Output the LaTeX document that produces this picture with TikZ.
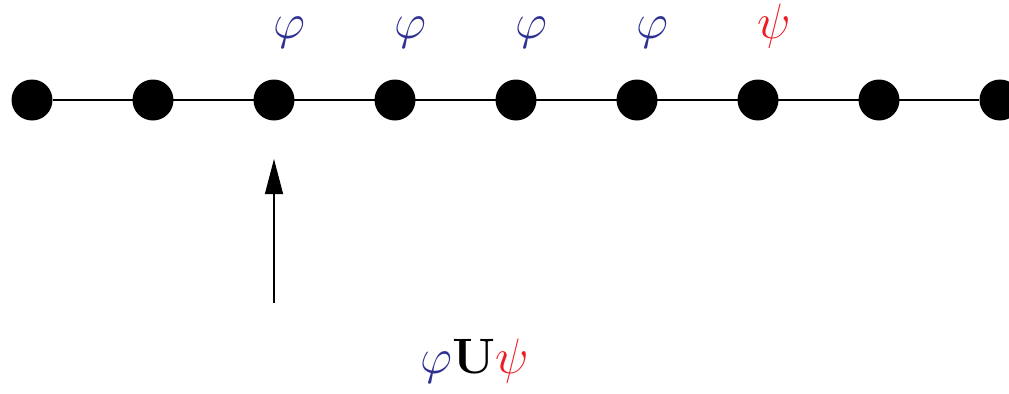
\documentclass[tikz,border=0pt]{standalone}
\usepackage{amsmath, amssymb}
\usepackage{xcolor}
\usepackage{tikz}
\usetikzlibrary{positioning, arrows.meta}

\definecolor{phiblue}{RGB}{46,49,146}
\definecolor{psired}{RGB}{237,28,36}

\begin{document}
\begin{tikzpicture}[node distance=60.5pt,on grid,line width=0.6pt,
    site/.style={circle,fill=black,inner sep=0pt,minimum size=20.5pt},
    prop/.style={inner sep=0pt,text height=17.5pt,text depth=5pt,
                 font=\fontsize{25}{30}\selectfont}]
       \useasboundingbox (0,0) rectangle (504.5pt,196.5pt);
       \node[site] (s0) at (16pt,146.5pt) {};
       \node[site] (s1) [right=of s0] {};
       \node[site] (s2) [right=of s1] {};
       \node[site] (s3) [right=of s2] {};
       \node[site] (s4) [right=of s3] {};
       \node[site] (s5) [right=of s4] {};
       \node[site] (s6) [right=of s5] {};
       \node[site] (s7) [right=of s6] {};
       \node[site] (s8) [right=of s7] {};
       \draw (s0) -- (s8);

       % labels of the states
       \node[prop,text=phiblue] (l2) [above right=37.25pt and 7.5pt of s2] {$\varphi$};
       \node[prop,text=phiblue] (l3) [above right=37.25pt and 7.5pt of s3] {$\varphi$};
       \node[prop,text=phiblue] (l4) [above right=37.25pt and 7.5pt of s4] {$\varphi$};
       \node[prop,text=phiblue] (l5) [above right=37.25pt and 7.5pt of s5] {$\varphi$};
       \node[prop,text=psired] (l6) [above right=37.25pt and 8pt of s6] {$\psi$};

       \coordinate[below=101.5pt of s2] (tail);
       \coordinate[below=29.5pt of s2] (tip);
       \draw[-{Triangle[length=17.5pt,width=9pt]}] (tail) -- (tip);

       \node[prop,font=\fontsize{27}{32}\selectfont] (until) [below right=130.25pt and 40pt of s3]
            {$\textcolor{phiblue}{\varphi}\mathbf{U}\textcolor{psired}{\psi}$};
    \end{tikzpicture}
\end{document}
